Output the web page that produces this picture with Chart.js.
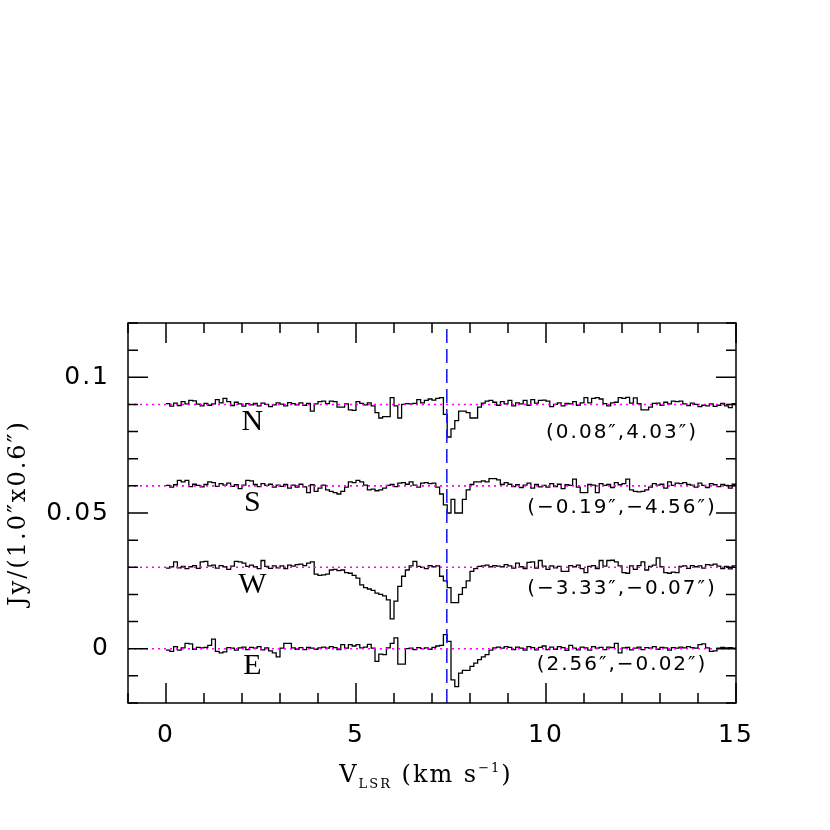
<!DOCTYPE html>
<html>
<head>
<meta charset="utf-8">
<script src="https://cdn.jsdelivr.net/npm/chart.js@4.4.0/dist/chart.umd.min.js"></script>
<style>
  html, body { margin: 0; padding: 0; background: #fff; }
  canvas { display: block; }
</style>
</head>
<body>
<canvas id="spectra" width="830" height="830"></canvas>
<script>
// velocity of the first channel and channel width (km/s)
const channelStart = 0.0;
const channelWidth = 0.1;

const spectrumNames = ['N', 'S', 'W', 'E'];
const spectrumOffsets = [0.09, 0.06, 0.03, 0.0];
const positionLabels = ['(0.08″,4.03″)', '(−0.19″,−4.56″)', '(−3.33″,−0.07″)', '(2.56″,−0.02″)'];

// flux per channel in mJy, relative to each spectrum's offset
const fluxN = [
  0.3,-0.6,0.5,-0.4,1.0,0.2,1.5,1.3,0.1,-0.5,
  0.4,-0.3,0.2,1.8,0.6,2.2,1.0,-0.4,0.8,0.2,
  -0.6,0.3,-0.2,0.4,-0.5,0.5,0.0,-0.8,-0.2,0.6,
  0.1,-0.5,0.7,0.3,-0.2,0.6,-0.3,0.4,-2.5,0.2,
  1.0,1.2,0.3,1.2,1.0,-1.0,-1.0,0.2,-2.0,-2.2,
  1.0,0.4,-0.2,0.6,-0.5,-3.0,-5.0,-4.5,-4.5,2.5,
  -0.5,-5.0,0.0,0.3,0.2,0.4,1.8,0.6,1.5,2.0,
  1.6,2.2,2.5,-3.7,-12.0,-9.0,-6.0,-2.5,-2.5,-3.0,
  -5.0,-5.0,-1.0,0.5,1.2,1.5,0.8,-0.3,1.0,0.2,
  1.5,-0.5,0.6,0.2,1.5,-0.3,1.8,0.5,1.5,1.6,
  1.2,-0.8,0.0,0.6,-0.5,0.4,0.2,1.0,-0.3,0.6,
  2.5,0.6,2.2,2.5,2.0,0.3,-0.5,0.6,0.8,2.5,
  2.2,2.6,0.5,2.4,0.3,-2.0,-2.0,-1.0,0.4,0.5,
  -0.3,0.8,0.2,1.2,1.0,1.2,0.2,-0.4,0.5,0.0,
  -0.8,-0.3,-0.5,0.2,-0.7,-0.3,0.4,-0.5,-1.2,0.3
];
const fluxS = [
  0.2,-0.5,0.4,2.0,1.5,2.0,-0.3,0.6,0.2,-0.4,
  0.5,1.5,1.2,-0.2,0.8,0.3,1.0,-0.2,0.4,-1.0,
  0.3,2.0,1.8,0.5,-0.3,0.8,0.2,0.6,-0.5,0.3,
  -0.2,0.5,-0.8,0.3,-0.5,0.6,-0.4,-2.5,0.4,-2.0,
  -0.8,0.3,-1.5,-2.0,-2.5,-3.0,-2.0,-0.5,1.5,1.2,
  2.0,1.5,0.3,-1.5,-1.2,-1.8,-1.5,-0.8,0.2,0.5,
  -0.3,1.0,1.2,0.6,1.5,0.3,-0.5,1.0,1.2,0.8,
  1.0,-0.5,-3.0,-7.0,-10.0,-5.0,-10.0,-10.0,-5.0,-1.5,
  0.5,1.5,1.5,1.8,1.5,2.7,2.7,2.2,0.5,1.2,
  0.6,-0.3,0.4,-0.6,0.3,1.0,-0.8,0.5,-0.4,0.2,
  -0.5,0.8,-0.3,0.6,-1.0,0.4,0.2,2.5,-0.5,-2.5,
  -2.5,0.5,0.3,-2.5,0.8,0.2,0.5,-0.6,1.2,0.4,
  0.8,2.5,-1.5,-2.0,-2.2,-2.0,-1.5,-0.5,0.8,0.3,
  0.6,-0.8,1.5,0.2,1.0,0.8,1.2,0.5,0.3,-0.5,
  1.0,0.2,-0.6,0.8,0.4,-0.3,0.5,0.2,-0.8,0.6
];
const fluxW = [
  -0.3,0.2,2.0,-0.2,0.3,-0.5,0.2,0.6,-0.4,2.0,
  2.2,0.5,0.8,-0.3,0.6,0.2,-0.8,0.4,2.2,2.0,
  1.5,0.3,0.8,0.2,-0.5,2.5,0.3,-0.4,0.5,-0.2,
  0.5,-0.5,0.8,0.4,1.0,1.2,0.6,1.5,2.0,-2.5,
  -3.0,-2.8,-2.5,-1.0,-0.8,-1.2,-1.0,-2.0,-2.2,-3.0,
  -4.0,-6.5,-7.5,-8.0,-8.5,-9.5,-10.0,-10.5,-12.0,-19.0,
  -12.5,-7.0,-3.3,-1.0,0.5,2.2,0.3,0.0,-0.5,0.6,
  0.2,0.5,-3.3,-5.0,-7.5,-13.0,-13.0,-10.0,-7.5,-5.0,
  -1.5,-0.5,0.3,0.5,0.8,0.2,0.6,0.4,0.2,1.0,
  0.5,-0.3,1.5,0.2,-0.5,1.8,2.0,-0.3,2.5,0.4,
  -0.8,0.5,-0.2,0.3,-1.5,-1.5,0.6,0.2,0.8,-0.5,
  -2.0,0.3,0.6,-0.5,2.5,0.4,2.5,2.6,2.0,0.5,
  -2.0,-2.2,0.5,-0.8,0.6,2.0,-1.0,0.3,0.8,3.5,
  0.2,-2.0,-2.2,-1.8,-2.0,0.3,0.5,-0.4,0.6,0.2,
  0.5,-0.3,1.0,0.8,1.2,0.4,-0.5,0.3,-0.6,0.5
];
const fluxE = [
  -0.5,-1.0,0.8,-0.5,0.3,2.0,1.8,-0.2,0.5,0.3,
  0.5,1.2,3.5,-1.0,-1.5,-1.2,0.4,0.2,-0.5,0.3,
  0.6,-0.3,0.5,0.2,0.8,-0.4,0.3,-0.8,-1.5,-3.0,
  0.2,2.0,2.0,0.3,-0.2,0.4,-0.3,0.5,0.2,-0.2,
  0.3,0.6,0.2,0.8,0.4,-0.3,1.5,0.2,1.5,1.0,
  1.5,0.3,0.6,1.6,0.2,-4.7,-2.0,-2.2,0.3,2.0,
  4.0,-5.7,-5.7,0.0,0.2,-0.3,0.4,0.0,0.3,-0.2,
  0.5,1.0,1.2,5.2,2.7,-11.5,-14.0,-9.0,-8.0,-8.0,
  -6.5,-5.3,-4.0,-3.0,-2.2,-0.5,0.3,0.6,0.2,0.8,
  0.5,-0.3,0.6,0.2,-0.5,0.8,0.4,-0.4,0.5,1.0,
  -0.3,0.6,-0.2,0.8,0.4,-0.6,1.2,0.2,-0.4,0.6,
  0.3,-0.5,0.8,0.2,0.5,-0.3,0.6,0.4,2.0,-1.5,
  0.3,0.5,-0.4,0.2,0.6,-0.3,0.4,0.2,0.8,-0.2,
  0.5,0.3,-0.5,0.4,0.2,0.6,0.3,0.8,0.4,0.2,
  1.5,1.8,0.3,-1.0,-0.8,0.2,0.5,0.3,0.4,0.2
];
const spectrumFlux = [fluxN, fluxS, fluxW, fluxE];

const vSystemic = 7.39;   // dashed blue line

const xRange = [-1, 15];
const yRange = [-0.02, 0.12];
const xTicks = [0, 5, 10, 15];
const xMinorTicks = [-1, 0, 1, 2, 3, 4, 5, 6, 7, 8, 9, 10, 11, 12, 13, 14, 15];
const yTicks = [0, 0.05, 0.1];
const yTickLabels = ['0', '0.05', '0.1'];
const yMinorTicks = [-0.02, -0.01, 0, 0.01, 0.02, 0.03, 0.04, 0.05, 0.06, 0.07, 0.08, 0.09, 0.1, 0.11, 0.12];

// turn channel lists into step-histogram points
function toSteps(flux, offset) {
  const pts = flux.map((f, i) => ({ x: channelStart + i * channelWidth, y: offset + f / 1000 }));
  pts.push({ x: channelStart + flux.length * channelWidth, y: offset + flux[flux.length - 1] / 1000 });
  return pts;
}

const datasets = [];
spectrumOffsets.forEach((off, k) => {
  datasets.push({
    label: 'base ' + spectrumNames[k],
    data: [{ x: xRange[0], y: off }, { x: xRange[1], y: off }],
    borderColor: '#ff00ff',
    borderWidth: 1.6,
    borderDash: [2, 4],
    order: 0
  });
});
datasets.push({
  label: 'vsys',
  data: [{ x: vSystemic, y: yRange[0] }, { x: vSystemic, y: yRange[1] }],
  borderColor: '#1f1ff0',
  borderWidth: 1.6,
  borderDash: [14, 6],
  order: 0
});
spectrumFlux.forEach((flux, k) => {
  datasets.push({
    label: spectrumNames[k],
    data: toSteps(flux, spectrumOffsets[k]),
    borderColor: '#000',
    borderWidth: 1.3,
    stepped: true,
    order: 1
  });
});

// frame, inward ticks and the text inside the plot
const posLabelDrop = [0.0104, 0.0081, 0.0078, 0.0059];
const decorations = {
  id: 'decorations',
  beforeDraw(chart) {
    chart.ctx.letterSpacing = '2px';
  },
  afterDraw(chart) {
    const ctx = chart.ctx;
    const a = chart.chartArea;
    const xs = chart.scales.x, ys = chart.scales.y;
    ctx.save();
    ctx.strokeStyle = '#000';
    ctx.lineWidth = 1.5;
    ctx.strokeRect(a.left, a.top, a.right - a.left, a.bottom - a.top);

    ctx.beginPath();
    xMinorTicks.forEach(v => {
      const px = xs.getPixelForValue(v);
      const len = xTicks.includes(v) ? 20 : 10;
      ctx.moveTo(px, a.bottom); ctx.lineTo(px, a.bottom - len);
      ctx.moveTo(px, a.top); ctx.lineTo(px, a.top + len);
    });
    yMinorTicks.forEach(v => {
      const py = ys.getPixelForValue(v);
      const len = yTicks.some(t => Math.abs(t - v) < 1e-9) ? 20 : 10;
      ctx.moveTo(a.left, py); ctx.lineTo(a.left + len, py);
      ctx.moveTo(a.right, py); ctx.lineTo(a.right - len, py);
    });
    ctx.stroke();

    ctx.fillStyle = '#000';
    ctx.textAlign = 'center';
    ctx.textBaseline = 'middle';
    spectrumNames.forEach((name, k) => {
      ctx.font = '30px "Liberation Serif"';
      ctx.fillText(name, xs.getPixelForValue(2.3), ys.getPixelForValue(spectrumOffsets[k] - 0.0065));
      ctx.font = '20px "DejaVu Sans"';
      ctx.fillText(positionLabels[k], xs.getPixelForValue(12.0), ys.getPixelForValue(spectrumOffsets[k] - posLabelDrop[k]));
    });

    // x axis title with sub- and superscript
    const pieces = [
      { t: 'V', f: '24px "DejaVu Serif"', dy: 0 },
      { t: 'LSR', f: '13px "DejaVu Serif"', dy: 6 },
      { t: ' (km s', f: '24px "DejaVu Serif"', dy: 0 },
      { t: '−1', f: '13px "DejaVu Serif"', dy: -10 },
      { t: ')', f: '24px "DejaVu Serif"', dy: 0 }
    ];
    let total = 0;
    pieces.forEach(p => { ctx.font = p.f; p.w = ctx.measureText(p.t).width; total += p.w; });
    let x = (a.left + a.right) / 2 - total / 2 - 6;
    ctx.textAlign = 'left';
    ctx.textBaseline = 'alphabetic';
    pieces.forEach(p => { ctx.font = p.f; ctx.fillText(p.t, x, 782 + p.dy); x += p.w; });
    ctx.restore();
  }
};

Chart.defaults.color = '#000';
Chart.defaults.font.family = '"DejaVu Sans"';

new Chart(document.getElementById('spectra'), {
  type: 'line',
  data: { datasets },
  options: {
    responsive: false,
    animation: false,
    devicePixelRatio: 1,
    layout: { padding: { top: 323, right: 94, left: 0, bottom: 0 } },
    elements: { point: { radius: 0 }, line: { tension: 0 } },
    plugins: { legend: { display: false }, tooltip: { enabled: false } },
    scales: {
      x: {
        type: 'linear',
        min: xRange[0],
        max: xRange[1],
        grid: { display: false, drawTicks: false },
        border: { display: false },
        afterBuildTicks: s => { s.ticks = xTicks.map(v => ({ value: v })); },
        afterFit: s => { s.height = 127; },
        ticks: { font: { size: 25 }, padding: 17, maxRotation: 0, callback: v => String(v) }
      },
      y: {
        type: 'linear',
        min: yRange[0],
        max: yRange[1],
        grid: { display: false, drawTicks: false },
        border: { display: false },
        afterBuildTicks: s => { s.ticks = yTicks.map(v => ({ value: v })); },
        afterFit: s => { s.width = 128; },
        ticks: { font: { size: 25 }, padding: 18, callback: (v, i) => yTickLabels[i] },
        title: {
          display: true,
          text: 'Jy/(1.0″x0.6″)',
          font: { family: '"DejaVu Serif"', size: 24 },
          padding: { top: 4, bottom: 0 }
        }
      }
    }
  },
  plugins: [decorations]
});
</script>
</body>
</html>
